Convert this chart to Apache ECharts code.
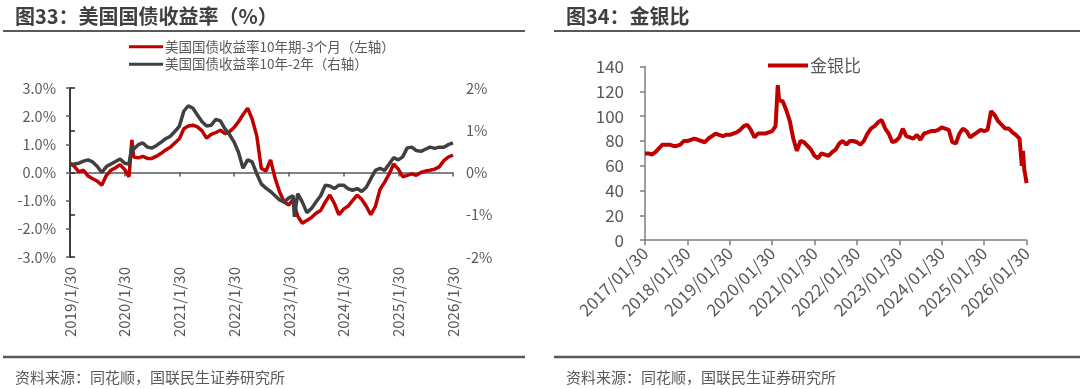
<!DOCTYPE html>
<html><head><meta charset="utf-8">
<script src="https://cdn.jsdelivr.net/npm/echarts@6/dist/echarts.min.js"></script>
<style>html,body{margin:0;padding:0;background:#fff}#c{width:1080px;height:389px}</style>
</head><body><div id="c"></div>
<script>
// ---------- 图33 data (monthly from 2019/1/30) ----------
const usStartYear = 2019;
const usRed = [0.33,0.22,0.02,0.08,-0.12,-0.22,-0.3,-0.45,-0.1,0.08,0.17,0.28,
  0.1,-0.15,0.55,0.52,0.57,0.5,0.5,0.58,0.68,0.8,0.9,1.05,
  1.2,1.55,1.65,1.68,1.62,1.48,1.22,1.35,1.42,1.5,1.38,1.45,
  1.6,1.8,2.05,2.28,1.9,1.3,0.15,0.05,0.45,-0.2,-0.7,-1.05,
  -1.15,-0.95,-1.55,-1.8,-1.7,-1.6,-1.45,-1.35,-1.05,-0.8,-1.1,-1.5,
  -1.3,-1.2,-1.0,-0.8,-0.95,-1.2,-1.5,-1.2,-0.6,-0.35,-0.05,0.3,
  0.12,-0.15,-0.1,-0.05,-0.1,0.0,0.05,0.08,0.12,0.2,0.42,0.55,
  0.62];
const usGrey = [0.18,0.2,0.22,0.27,0.3,0.25,0.15,0.0,0.14,0.2,0.26,0.32,
  0.22,0.2,0.55,0.66,0.7,0.6,0.58,0.64,0.72,0.8,0.86,0.97,
  1.1,1.45,1.58,1.52,1.36,1.2,1.1,1.12,1.26,1.22,1.03,0.9,
  0.72,0.48,0.1,0.3,0.25,-0.03,-0.27,-0.37,-0.45,-0.55,-0.65,-0.7,
  -0.6,-0.55,-0.5,-0.7,-0.95,-0.85,-0.7,-0.55,-0.3,-0.32,-0.38,-0.3,
  -0.3,-0.38,-0.42,-0.38,-0.45,-0.35,-0.15,0.05,0.1,0.05,0.2,0.35,
  0.3,0.37,0.58,0.6,0.52,0.5,0.55,0.6,0.57,0.6,0.6,0.66,
  0.7];
const usExtraDates = ['2020/3/18','2023/3/8'];
const usExtraRed = [1.16,-1.15];
const usExtraGrey = [0.62,-1.05];
const usTicks = ['2019/1/30','2020/1/30','2021/1/30','2022/1/30','2023/1/30','2024/1/30','2025/1/30','2026/1/30'];
const usNames = ['美国国债收益率10年期-3个月（左轴）','美国国债收益率10年-2年（右轴）'];

// ---------- 图34 data (monthly from 2017/01/30) ----------
const gsStartYear = 2017;
const gsRatio = [70,70,69,71,74,77,77,77,76,76,77,80,
  80,81,82,81,80,79,82,84,86,85,84,85,
  85,86,87,89,92,93,89,83,86,86,86,87,
  88,92,113,112,105,96,82,72,80,79,76,73,
  68,66,70,69,68,71,73,78,80,77,80,80,
  79,77,80,86,90,92,95,97,90,86,79,80,
  83,90,84,83,82,85,81,86,87,88,88,89,
  91,90,89,79,78,86,90,88,83,85,87,89,
  88,89,104,101,96,93,90,90,87,85,82,72,
  46];
const gsExtraDates = ['2020/3/18','2025/12/20','2026/1/10'];
const gsExtraVals = [125,60,57];
const gsTicks = ['2017/01/30','2018/01/30','2019/01/30','2020/01/30','2021/01/30','2022/01/30','2023/01/30','2024/01/30','2025/01/30','2026/01/30'];
const gsName = '金银比';

// ---------- helpers ----------
function parseD(s){const p=s.split('/').map(Number);return [p[0],p[1],p[2]];}
function pos(s, base){
  const [y,m,d]=parseD(s);
  const t=Date.UTC(y,m-1,d);
  let y0=y; if(t<Date.UTC(y,0,30)) y0=y-1;
  const a=Date.UTC(y0,0,30), b=Date.UTC(y0+1,0,30);
  return (y0-base)+(t-a)/(b-a);
}
function monthly(base,n){
  const out=[];
  for(let i=0;i<n;i++){const y=base+Math.floor(i/12), mo=i%12+1; out.push(y+'/'+mo+'/'+(mo===2?28:30));}
  return out;
}
function build(base, vals, exDates, exVals){
  const ds=monthly(base, vals.length);
  const pts=ds.map((d,i)=>[pos(d,base),vals[i]]);
  exDates.forEach((d,i)=>pts.push([pos(d,base),exVals[i]]));
  pts.sort((a,b)=>a[0]-b[0]);
  return pts;
}
const redData=build(usStartYear,usRed,usExtraDates,usExtraRed);
const greyData=build(usStartYear,usGrey,usExtraDates,usExtraGrey);
const gsData=build(gsStartYear,gsRatio,gsExtraDates,gsExtraVals);

const FONT='"Noto Sans CJK SC", "Noto Sans", sans-serif';
const LBL='#595959';
const RED='#C00000', GREY='#404040';

const chart=echarts.init(document.getElementById('c'),null,{renderer:'canvas'});
chart.setOption({
  animation:false,
  textStyle:{fontFamily:FONT},
  grid:[
    {left:70,top:88,width:383,height:169},
    {left:645,top:66.6,width:381.6,height:173.6}
  ],
  xAxis:[
    {gridIndex:0,type:'value',min:0,max:usTicks.length-1,interval:1,position:'bottom',
     axisLine:{show:false,onZero:false},axisTick:{show:false},splitLine:{show:false},
     axisLabel:{rotate:90,fontSize:15,color:LBL,margin:10,fontFamily:FONT,formatter:v=>usTicks[Math.round(v)]}},
    {gridIndex:0,type:'value',min:0,max:usTicks.length-1,interval:1,position:'bottom',
     axisLine:{show:true,onZero:true,onZeroAxisIndex:0,lineStyle:{color:'#595959',width:1.5}},
     axisTick:{show:true,length:4,lineStyle:{color:'#595959',width:1.5}},
     axisLabel:{show:false},splitLine:{show:false}},
    {gridIndex:1,type:'value',min:0,max:gsTicks.length-1,interval:1,position:'bottom',
     axisLine:{show:true,onZero:false,lineStyle:{color:'#7f7f7f',width:1.5}},
     axisTick:{show:true,length:5,lineStyle:{color:'#7f7f7f',width:1.5}},
     splitLine:{show:false},
     axisLabel:{rotate:45,fontSize:17,color:LBL,margin:10,fontFamily:FONT,formatter:v=>gsTicks[Math.round(v)]}}
  ],
  yAxis:[
    {gridIndex:0,type:'value',min:-3,max:3,interval:1,position:'left',
     axisLine:{show:true,lineStyle:{color:'#595959',width:1.5}},
     axisTick:{show:true,length:4,lineStyle:{color:'#595959',width:1.5}},
     splitLine:{show:false},
     axisLabel:{fontSize:14.5,color:LBL,margin:14,fontFamily:FONT,formatter:v=>v.toFixed(1)+'%'}},
    {gridIndex:0,type:'value',min:-2,max:2,interval:1,position:'right',
     axisLine:{show:true,lineStyle:{color:'#262626',width:1.5}},
     axisTick:{show:true,length:5,lineStyle:{color:'#262626',width:1.5}},
     splitLine:{show:false},
     axisLabel:{fontSize:14.5,color:LBL,margin:13,fontFamily:FONT,formatter:v=>v+'%'}},
    {gridIndex:1,type:'value',min:0,max:140,interval:20,position:'left',
     axisLine:{show:true,lineStyle:{color:'#7f7f7f',width:1.5}},
     axisTick:{show:true,length:5,lineStyle:{color:'#7f7f7f',width:1.5}},
     splitLine:{show:false},
     axisLabel:{fontSize:17,color:LBL,margin:21,fontFamily:FONT}}
  ],
  legend:[
    {data:usNames,orient:'vertical',left:124,top:35,icon:'rect',itemWidth:34,itemHeight:3,itemGap:4,
     textStyle:{fontSize:13.5,color:LBL,fontFamily:FONT,padding:[0,0,0,-3]}},
    {data:[gsName],left:763,top:52,icon:'rect',itemWidth:40,itemHeight:4,
     textStyle:{fontSize:17,color:LBL,fontFamily:FONT,padding:[0,0,0,-3]}}
  ],
  series:[
    {name:usNames[0],type:'line',xAxisIndex:0,yAxisIndex:0,data:redData,showSymbol:false,symbol:'none',
     lineStyle:{color:RED,width:3.5},itemStyle:{color:RED}},
    {name:usNames[1],type:'line',xAxisIndex:0,yAxisIndex:1,data:greyData,showSymbol:false,symbol:'none',
     lineStyle:{color:GREY,width:3.5},itemStyle:{color:GREY}},
    {name:gsName,type:'line',xAxisIndex:2,yAxisIndex:2,data:gsData,showSymbol:false,symbol:'none',
     lineStyle:{color:RED,width:4},itemStyle:{color:RED}}
  ],
  graphic:[
    {type:'text',left:15,top:6,style:{text:'图33：美国国债收益率（%）',font:'bold 20px '+FONT,fill:'#404040'}},
    {type:'line',shape:{x1:3,y1:31,x2:525,y2:31},style:{stroke:'#595959',lineWidth:2}},
    {type:'line',shape:{x1:3,y1:357,x2:525,y2:357},style:{stroke:'#595959',lineWidth:2.5}},
    {type:'text',left:15,top:370,style:{text:'资料来源：同花顺，国联民生证券研究所',font:'15px '+FONT,fill:'#595959'}},
    {type:'text',left:566,top:6,style:{text:'图34：金银比',font:'bold 20px '+FONT,fill:'#404040'}},
    {type:'line',shape:{x1:554,y1:31,x2:1080,y2:31},style:{stroke:'#595959',lineWidth:2}},
    {type:'line',shape:{x1:554,y1:357,x2:1080,y2:357},style:{stroke:'#595959',lineWidth:2.5}},
    {type:'text',left:566,top:370,style:{text:'资料来源：同花顺，国联民生证券研究所',font:'15px '+FONT,fill:'#595959'}}
  ]
});
</script></body></html>
